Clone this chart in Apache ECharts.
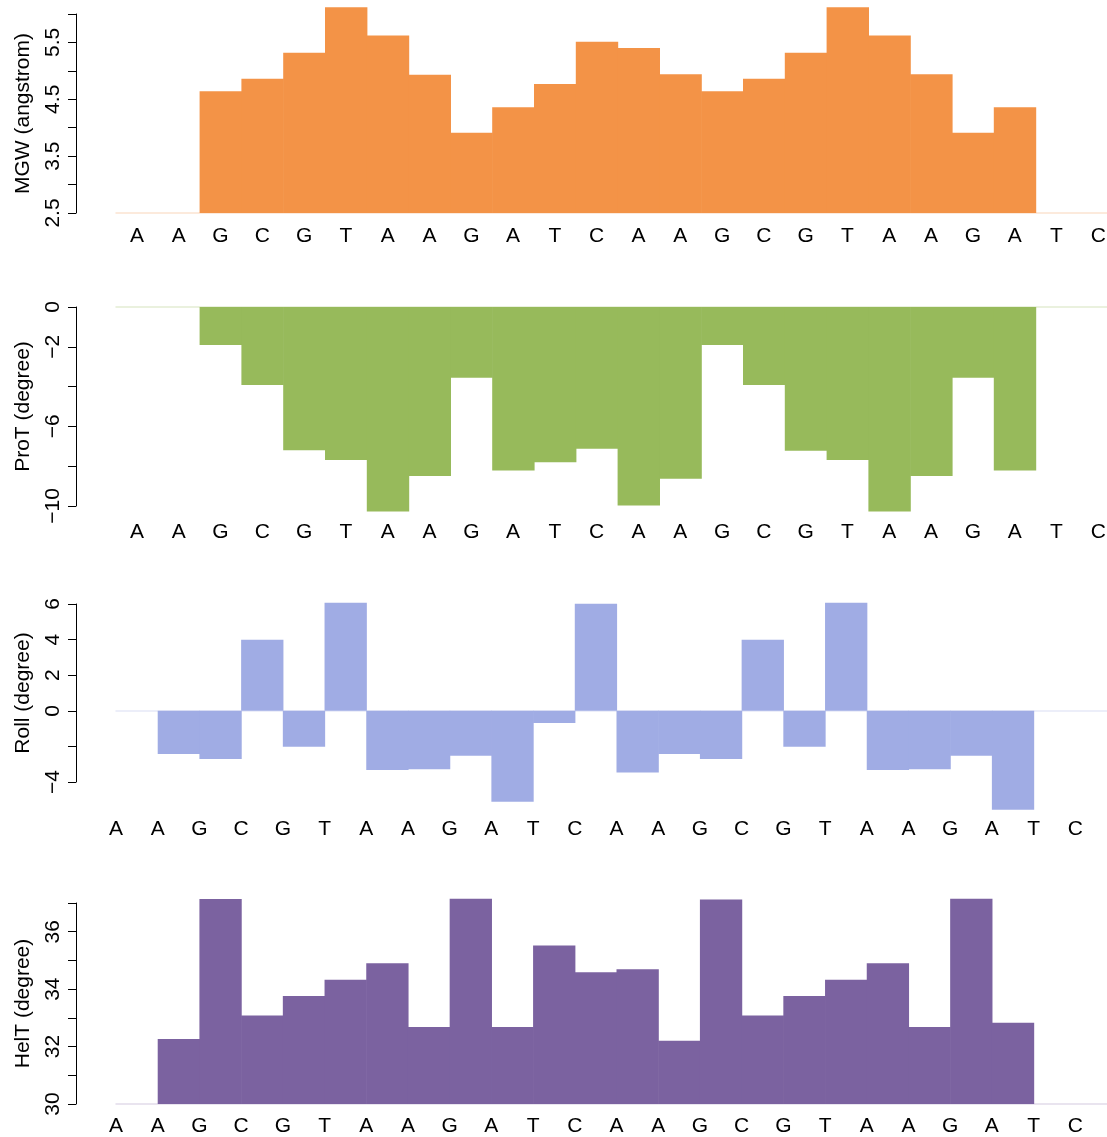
<!DOCTYPE html>
<html>
<head>
<meta charset="utf-8">
<script src="https://cdn.jsdelivr.net/npm/echarts@6/dist/echarts.min.js"></script>
<style>
html,body{margin:0;padding:0;background:#fff;overflow:hidden;width:1107px;height:1137px;}
#chart{width:1120px;height:1137px;}
</style>
</head>
<body>
<div id="chart"></div>
<script>
// Sequence (tick labels)
const seq = ['A','A','G','C','G','T','A','A','G','A','T','C','A','A','G','C','G','T','A','A','G','A','T','C'];
const seqStep = seq.concat(['']);

// Shape values (null = not defined)
const mgw  = [null, null, 4.64, 4.86, 5.32, 6.12, 5.62, 4.93, 3.91, 4.36, 4.77, 5.51, 5.40, 4.94, 4.64, 4.86, 5.32, 6.12, 5.62, 4.94, 3.91, 4.36, null, null];
const prot = [null, null, -1.91, -3.92, -7.20, -7.69, -10.28, -8.49, -3.55, -8.22, -7.80, -7.12, -9.98, -8.63, -1.91, -3.92, -7.22, -7.69, -10.28, -8.49, -3.55, -8.22, null, null];
const roll = [null, -2.42, -2.71, 3.99, -2.02, 6.07, -3.33, -3.28, -2.53, -5.11, -0.69, 6.01, -3.46, -2.43, -2.71, 3.99, -2.02, 6.07, -3.33, -3.28, -2.53, -5.56, null, null];
const helt = [null, 32.26, 37.14, 33.08, 33.76, 34.33, 34.90, 32.68, 37.15, 32.68, 35.52, 34.59, 34.69, 32.20, 37.12, 33.08, 33.76, 34.33, 34.90, 32.68, 37.15, 32.83, null, null];

// Axis settings
const yNames = ['MGW (angstrom)', 'ProT (degree)', 'Roll (degree)', 'HelT (degree)'];
const yMin = [2.5, -10, -4, 30];
const yMax = [6.0, 0, 6, 37];
const yInterval = [0.5, 2, 2, 1];
const yBase = [2.5, 0, 0, 30];
const yShown = [[2.5, 3.5, 4.5, 5.5], [0, -2, -6, -10], [6, 4, 2, 0, -4], [30, 32, 34, 36]];
const colors = ['#F39347', '#97BA5B', '#A0ACE4', '#7B62A0'];
const lightColors = ['#FBE3D1', '#E3EDD4', '#E6E9F8', '#E2DCEA'];

const gridTops = [14, 307, 604, 903];
const gridBottoms = [213, 506, 782, 1104];
const labelMargins = [13, 16, 37, 12];
const stepLabels = [false, false, true, true];
const datasets = [mgw, prot, roll, helt];

const font = 'Liberation Sans, Arial, Helvetica, sans-serif';

function makeRender(base, color) {
  return function (params, api) {
    const idx = api.value(0), v = api.value(1);
    const top = api.coord([idx, v]);
    const bot = api.coord([idx, base]);
    const w = api.size([1, 0])[0];
    return {
      type: 'rect',
      shape: { x: top[0] - w / 2, y: Math.min(top[1], bot[1]), width: w + 0.6, height: Math.abs(bot[1] - top[1]) },
      style: { fill: color }
    };
  };
}

const grid = [], xAxis = [], yAxis = [], series = [];
for (let i = 0; i < 4; i++) {
  grid.push({ left: 116, width: 1003.2, top: gridTops[i], height: gridBottoms[i] - gridTops[i] });
  // bar axis (carries the light baseline)
  xAxis.push({
    type: 'category', gridIndex: i, data: seq, boundaryGap: true, position: 'bottom',
    axisLine: { show: true, onZero: true, lineStyle: { color: lightColors[i], width: 1.5 } },
    axisTick: { show: false }, axisLabel: { show: false }, splitLine: { show: false }
  });
  // label axis
  xAxis.push({
    type: 'category', gridIndex: i, position: 'bottom',
    data: stepLabels[i] ? seqStep : seq,
    boundaryGap: !stepLabels[i],
    axisLine: { show: false, onZero: false }, axisTick: { show: false },
    axisLabel: { show: true, interval: 0, margin: labelMargins[i], color: '#000', fontSize: 21, fontFamily: font },
    splitLine: { show: false }
  });
  const shown = yShown[i];
  yAxis.push({
    type: 'value', gridIndex: i, min: yMin[i], max: yMax[i], interval: yInterval[i],
    position: 'left', offset: 40,
    name: yNames[i], nameLocation: 'middle', nameGap: 42,
    nameTextStyle: { color: '#000', fontSize: 21, fontFamily: font },
    axisLine: { show: true, lineStyle: { color: '#000', width: 1 } },
    axisTick: { show: true, length: 8, lineStyle: { color: '#000' } },
    splitLine: { show: false },
    axisLabel: {
      rotate: 90, margin: 12, color: '#000', fontSize: 21, fontFamily: font,
      formatter: function (v) {
        for (const s of shown) { if (Math.abs(s - v) < 1e-9) return String(s).replace('-', '\u2212'); }
        return '';
      }
    }
  });
  const data = [];
  datasets[i].forEach(function (v, k) { if (v !== null) data.push([k, v]); });
  series.push({
    type: 'custom', xAxisIndex: 2 * i, yAxisIndex: i,
    data: data, encode: { x: 0, y: 1 },
    renderItem: makeRender(yBase[i], colors[i]),
    clip: false, silent: true, z: 3
  });
}

const chart = echarts.init(document.getElementById('chart'), null, { renderer: 'canvas' });
chart.setOption({
  animation: false,
  backgroundColor: '#fff',
  grid: grid, xAxis: xAxis, yAxis: yAxis, series: series
});
</script>
</body>
</html>
